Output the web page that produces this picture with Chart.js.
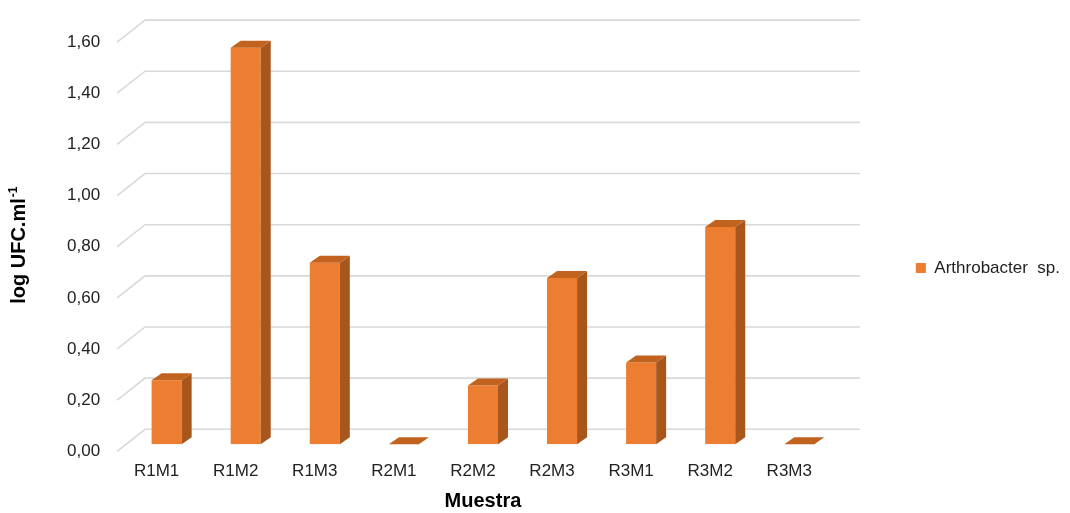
<!DOCTYPE html>
<html>
<head>
<meta charset="utf-8">
<script src="https://cdn.jsdelivr.net/npm/chart.js@4.4.1/dist/chart.umd.min.js"></script>
<style>
  html, body { margin: 0; padding: 0; background: #ffffff; }
  #wrap { width: 1070px; height: 513px; position: relative; }
</style>
</head>
<body>
<div id="wrap"><canvas id="chart"></canvas></div>
<script>
// Samples (reactor / sampling point) and their counts
const categories = ['R1M1', 'R1M2', 'R1M3', 'R2M1', 'R2M2', 'R2M3', 'R3M1', 'R3M2', 'R3M3'];
const seriesName = 'Arthrobacter  sp.';
const seriesValues = [0.25, 1.55, 0.71, 0, 0.23, 0.65, 0.32, 0.85, 0];
const yTickLabels = ['0,00', '0,20', '0,40', '0,60', '0,80', '1,00', '1,20', '1,40', '1,60'];
const yAxisTitle = 'log UFC.ml';
const yAxisTitleSup = '-1';
const xAxisTitle = 'Muestra';

const FRONT = '#ED7D31';
const SIDE = '#A9561D';
const TOP = '#C2621F';
const GRID = '#D9D9D9';
const FONT = '"Liberation Sans", Arial, Helvetica, sans-serif';

// Depth of the extruded bars (right / up)
const DX = 10, DY = 7;

const depthPlugin = {
  id: 'depth',
  beforeDatasetsDraw(chart) {
    const { ctx, chartArea, scales: { y } } = chart;
    ctx.save();
    ctx.strokeStyle = GRID;
    ctx.lineWidth = 1.6;
    y.ticks.forEach(t => {
      const py = y.getPixelForValue(t.value);
      ctx.beginPath();
      ctx.moveTo(chartArea.left - 10, py + 7);
      ctx.lineTo(chartArea.left + 18, py - 15);
      ctx.lineTo(chartArea.right + 21, py - 15);
      ctx.stroke();
    });
    ctx.restore();
  },
  afterDatasetsDraw(chart) {
    const { ctx } = chart;
    const meta = chart.getDatasetMeta(0);
    ctx.save();
    meta.data.forEach(bar => {
      const { x, y, base, width } = bar.getProps(['x', 'y', 'base', 'width'], true);
      const l = x - width / 2, r = x + width / 2;
      ctx.fillStyle = SIDE;
      ctx.beginPath();
      ctx.moveTo(r, y);
      ctx.lineTo(r + DX, y - DY);
      ctx.lineTo(r + DX, base - DY);
      ctx.lineTo(r, base);
      ctx.closePath();
      ctx.fill();
      ctx.fillStyle = TOP;
      ctx.beginPath();
      ctx.moveTo(l, y);
      ctx.lineTo(l + DX, y - DY);
      ctx.lineTo(r + DX, y - DY);
      ctx.lineTo(r, y);
      ctx.closePath();
      ctx.fill();
    });
    ctx.restore();
  },
  afterDraw(chart) {
    // vertical axis title with a superscript exponent
    const { ctx, scales: { y } } = chart;
    const cy = (y.top + y.bottom) / 2 + 6;
    ctx.save();
    ctx.translate(25, cy);
    ctx.rotate(-Math.PI / 2);
    ctx.fillStyle = '#000';
    ctx.textBaseline = 'alphabetic';
    ctx.textAlign = 'left';
    ctx.font = 'bold 20px ' + FONT;
    const w1 = ctx.measureText(yAxisTitle).width;
    ctx.font = 'bold 12px ' + FONT;
    const w2 = ctx.measureText(yAxisTitleSup).width;
    const x0 = -(w1 + w2) / 2;
    ctx.font = 'bold 20px ' + FONT;
    ctx.fillText(yAxisTitle, x0, 0);
    ctx.font = 'bold 12px ' + FONT;
    ctx.fillText(yAxisTitleSup, x0 + w1 + 1, -8);
    ctx.restore();
  }
};

new Chart(document.getElementById('chart'), {
  type: 'bar',
  data: {
    labels: categories,
    datasets: [{
      label: seriesName,
      data: seriesValues,
      backgroundColor: FRONT,
      borderWidth: 0,
      categoryPercentage: 1,
      barPercentage: 0.38
    }]
  },
  options: {
    responsive: true,
    maintainAspectRatio: false,
    animation: false,
    devicePixelRatio: 1,
    layout: { padding: { left: 40, right: 0, top: 30, bottom: 7 } },
    plugins: {
      tooltip: { enabled: false },
      legend: {
        position: 'right',
        labels: {
          boxWidth: 10,
          boxHeight: 10,
          padding: 77,
          color: '#222',
          font: { family: FONT, size: 17 }
        }
      }
    },
    scales: {
      x: {
        grid: { display: false, drawTicks: false },
        border: { display: false },
        ticks: {
          color: '#222',
          padding: 17.3,
          labelOffset: -10,
          font: { family: FONT, size: 17 }
        },
        title: {
          display: true,
          text: xAxisTitle,
          color: '#000',
          padding: { top: -9.9, bottom: -7.4 },
          font: { family: FONT, size: 20, weight: 'bold' }
        }
      },
      y: {
        min: 0,
        max: 1.6,
        grid: { display: false, drawTicks: false },
        border: { display: false },
        ticks: {
          stepSize: 0.2,
          padding: 27,
          labelOffset: 7,
          color: '#222',
          font: { family: FONT, size: 17, lineHeight: 0.95 },
          callback: (v, i) => yTickLabels[i]
        }
      }
    }
  },
  plugins: [depthPlugin]
});
</script>
</body>
</html>
